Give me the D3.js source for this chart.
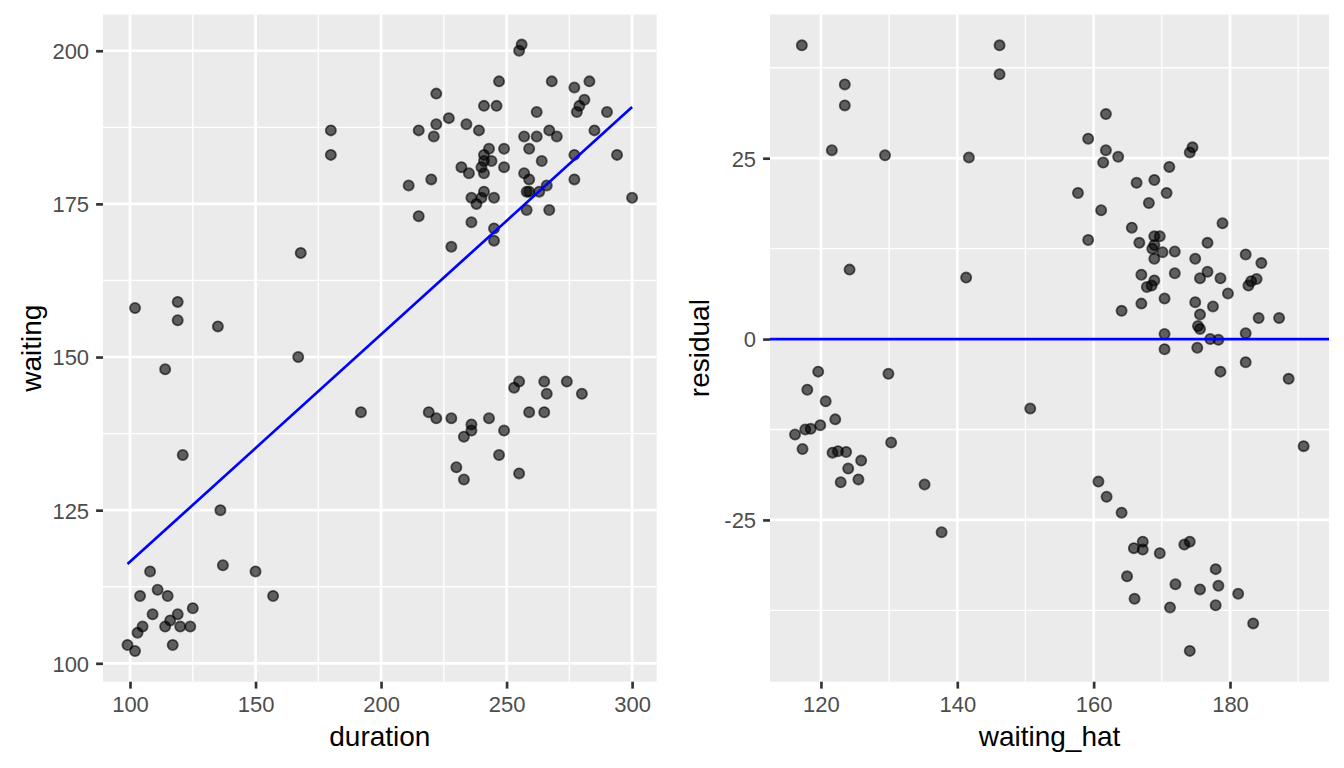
<!DOCTYPE html>
<html>
<head>
<meta charset="utf-8">
<script src="https://cdn.jsdelivr.net/npm/d3@7"></script>
<style>
  html, body { margin: 0; padding: 0; background: #ffffff; }
  svg { display: block; }
</style>
</head>
<body>
<svg id="chart" width="1344" height="768"></svg>
<script>
// ---------- data ----------
const duration = [256,255,247,268,283,277,222,281,279,241,246,278,262,290,227,180,215,222,234,239,285,221,257,262,267,270,243,249,259,180,241,277,294,241,244,264,232,240,249,235,241,257,211,220,259,277,241,258,259,263,266,236,240,245,300,238,258,267,215,236,245,245,228,168,102,119,119,135,167,114,192,219,222,228,236,236,233,243,249,247,230,233,255,253,255,265,274,266,280,259,265,121,136,137,150,157,108,111,104,115,125,109,119,116,105,114,120,124,103,99,117,102];
const waiting  = [201,200,195,195,195,194,193,192,191,191,191,190,190,190,189,187,187,188,188,187,187,186,186,186,187,186,184,184,184,183,183,183,183,182,182,182,181,181,181,180,180,180,178,179,179,179,177,177,177,177,178,176,176,176,176,175,174,174,173,172,171,169,168,167,158,159,156,155,150,148,141,141,140,140,139,138,137,140,138,134,132,130,131,145,146,146,146,144,144,141,141,134,125,116,115,111,115,112,111,111,109,108,108,107,106,106,106,106,105,103,103,102];

// fitted line endpoints
const fitDuration = [99, 300];
const fitWaiting  = [116.2, 190.8];

const waitingHat = [117.2,146.2,146.2,123.5,123.5,161.8,159.2,161.8,174.5,174.1,121.6,129.4,141.7,163.6,161.4,171.1,166.3,168.9,170.7,157.7,168.1,161.1,178.9,165.6,159.2,166.7,168.9,169.7,168.9,168.6,170.1,171.9,176.7,168.9,174.9,182.3,184.6,124.2,141.3,167.0,171.9,176.7,168.9,168.5,167.8,175.6,178.6,183.1,183.9,182.7,179.7,170.4,167.0,174.9,177.5,164.1,175.6,184.2,187.2,175.3,175.6,170.4,182.3,177.1,178.3,170.4,175.2,
  182.3,178.6,188.6,119.6,129.9,118.0,120.7,150.7,122.1,119.9,118.5,117.7,116.2,117.3,121.7,122.5,123.7,130.3,190.8,125.9,124.0,125.5,122.9,135.2,160.7,161.9,164.1,137.7,167.2,165.9,167.2,169.7,173.3,174.1,177.9,164.9,172.0,175.6,178.3,181.2,166.0,171.2,177.9,183.4,174.1];
const residual = [40.6,40.6,36.6,35.2,32.3,31.1,27.7,26.1,26.5,25.8,26.1,25.4,25.1,25.2,24.4,23.8,21.6,22.0,20.2,20.2,18.8,17.8,16.0,15.4,13.7,13.3,14.2,14.2,13.0,12.5,12.0,12.1,13.3,11.1,11.1,11.7,10.5,9.6,8.5,8.9,9.1,9.3,8.1,7.4,7.2,8.4,8.4,8.0,8.3,7.4,6.3,5.6,4.9,5.1,4.5,3.9,3.4,2.9,2.9,1.8,1.4,0.7,0.8,0.0,-0.1,-1.4,-1.2,
  -3.2,-4.5,-5.5,-4.5,-4.8,-7.0,-8.6,-9.6,-11.1,-11.9,-12.4,-12.5,-13.2,-15.2,-15.7,-15.5,-15.6,-14.3,-14.8,-16.8,-17.9,-19.4,-19.8,-20.1,-19.7,-21.8,-24.0,-26.7,-28.0,-28.9,-29.1,-29.6,-28.4,-28.0,-31.8,-32.8,-33.9,-34.6,-34.1,-35.2,-35.9,-37.1,-36.8,-39.3,-43.1];

// reference line in the residual panel
const residualRef = [0];

// tick labels
const leftXTicks  = [100,150,200,250,300];
const leftXMinor  = [125,175,225,275];
const leftYTicks  = [100,125,150,175,200];
const leftYMinor  = [112.5,137.5,162.5,187.5];
const rightXTicks = [120,140,160,180];
const rightXMinor = [130,150,170,190];
const rightYTicks = [-25,0,25];
const rightYMinor = [-37.5,-12.5,12.5,37.5];

const xTitleLeft = "duration", yTitleLeft = "waiting";
const xTitleRight = "waiting_hat", yTitleRight = "residual";

// ---------- drawing ----------
const svg = d3.select("#chart");
svg.append("rect").attr("width",1344).attr("height",768).attr("fill","#ffffff");

const FONT = "'Liberation Sans', Arial, Helvetica, sans-serif";
const TOP = 14.6, BOTTOM = 681.7;

function panel(opts) {
  const g = svg.append("g");
  const x = d3.scaleLinear().domain(opts.xDomain).range([opts.x0, opts.x1]);
  const y = d3.scaleLinear().domain(opts.yDomain).range([BOTTOM, TOP]);

  g.append("rect").attr("x", opts.x0).attr("y", TOP)
    .attr("width", opts.x1 - opts.x0).attr("height", BOTTOM - TOP)
    .attr("fill", "#EBEBEB");

  // minor grid
  g.selectAll(".vminor").data(opts.xMinor).join("line")
    .attr("x1", d => x(d)).attr("x2", d => x(d)).attr("y1", TOP).attr("y2", BOTTOM)
    .attr("stroke", "#ffffff").attr("stroke-width", 1.33);
  g.selectAll(".hminor").data(opts.yMinor).join("line")
    .attr("y1", d => y(d)).attr("y2", d => y(d)).attr("x1", opts.x0).attr("x2", opts.x1)
    .attr("stroke", "#ffffff").attr("stroke-width", 1.33);
  // major grid
  g.selectAll(".vmajor").data(opts.xTicks).join("line")
    .attr("x1", d => x(d)).attr("x2", d => x(d)).attr("y1", TOP).attr("y2", BOTTOM)
    .attr("stroke", "#ffffff").attr("stroke-width", 2.67);
  g.selectAll(".hmajor").data(opts.yTicks).join("line")
    .attr("y1", d => y(d)).attr("y2", d => y(d)).attr("x1", opts.x0).attr("x2", opts.x1)
    .attr("stroke", "#ffffff").attr("stroke-width", 2.67);

  // axes
  const xAxis = d3.axisBottom(x).tickValues(opts.xTicks).tickSize(6.9).tickPadding(7.5)
    .tickFormat(d3.format("d"));
  const yAxis = d3.axisLeft(y).tickValues(opts.yTicks).tickSize(6.9).tickPadding(7)
    .tickFormat(d => String(d));
  const gx = g.append("g").attr("transform", `translate(0,${BOTTOM})`).call(xAxis);
  const gy = g.append("g").attr("transform", `translate(${opts.x0},0)`).call(yAxis);
  [gx, gy].forEach(a => {
    a.select(".domain").remove();
    a.selectAll(".tick line").attr("stroke", "#333333").attr("stroke-width", 2.67);
    a.selectAll(".tick text").attr("fill", "#4D4D4D").attr("font-family", FONT)
      .attr("font-size", 22);
  });
  gy.selectAll(".tick text").attr("dy", "0.36em");

  return { g, x, y };
}

const L = panel({
  x0: 103, x1: 656.7, xDomain: [89.24, 309.8], yDomain: [97.0, 205.9],
  xTicks: leftXTicks, xMinor: leftXMinor, yTicks: leftYTicks, yMinor: leftYMinor
});
const R = panel({
  x0: 770, x1: 1329, xDomain: [112.53, 194.52], yDomain: [-47.36, 44.85],
  xTicks: rightXTicks, xMinor: rightXMinor, yTicks: rightYTicks, yMinor: rightYMinor
});

// left points
const leftData = duration.map((d, i) => ({ x: d, y: waiting[i] }));
L.g.append("g").selectAll("circle").data(leftData).join("circle")
  .attr("cx", d => L.x(d.x)).attr("cy", d => L.y(d.y)).attr("r", 5.1)
  .attr("fill", "#000").attr("fill-opacity", 0.6)
  .attr("stroke", "#000").attr("stroke-opacity", 0.6).attr("stroke-width", 1.8);

// fitted line
const fitData = fitDuration.map((d, i) => ({ x: d, y: fitWaiting[i] }));
L.g.append("path").datum(fitData)
  .attr("d", d3.line().x(d => L.x(d.x)).y(d => L.y(d.y)))
  .attr("fill", "none").attr("stroke", "#0000FF").attr("stroke-width", 2.67);

// right points
const rightData = waitingHat.map((d, i) => ({ x: d, y: residual[i] }));
R.g.append("g").selectAll("circle").data(rightData).join("circle")
  .attr("cx", d => R.x(d.x)).attr("cy", d => R.y(d.y)).attr("r", 5.1)
  .attr("fill", "#000").attr("fill-opacity", 0.6)
  .attr("stroke", "#000").attr("stroke-opacity", 0.6).attr("stroke-width", 1.8);

// horizontal reference line
R.g.selectAll(".href").data(residualRef).join("line")
  .attr("x1", 770).attr("x2", 1329)
  .attr("y1", d => R.y(d)).attr("y2", d => R.y(d))
  .attr("stroke", "#0000FF").attr("stroke-width", 2.67);

// axis titles
svg.append("text").attr("x", (103 + 656.7) / 2).attr("y", 746)
  .attr("text-anchor", "middle").attr("font-family", FONT).attr("font-size", 28)
  .attr("fill", "#000").text(xTitleLeft);
svg.append("text").attr("x", (770 + 1329) / 2).attr("y", 746)
  .attr("text-anchor", "middle").attr("font-family", FONT).attr("font-size", 28)
  .attr("fill", "#000").text(xTitleRight);
svg.append("text").attr("transform", `translate(41,${(TOP + BOTTOM) / 2}) rotate(-90)`)
  .attr("text-anchor", "middle").attr("font-family", FONT).attr("font-size", 28)
  .attr("fill", "#000").text(yTitleLeft);
svg.append("text").attr("transform", `translate(709,${(TOP + BOTTOM) / 2}) rotate(-90)`)
  .attr("text-anchor", "middle").attr("font-family", FONT).attr("font-size", 28)
  .attr("fill", "#000").text(yTitleRight);
</script>
</body>
</html>
